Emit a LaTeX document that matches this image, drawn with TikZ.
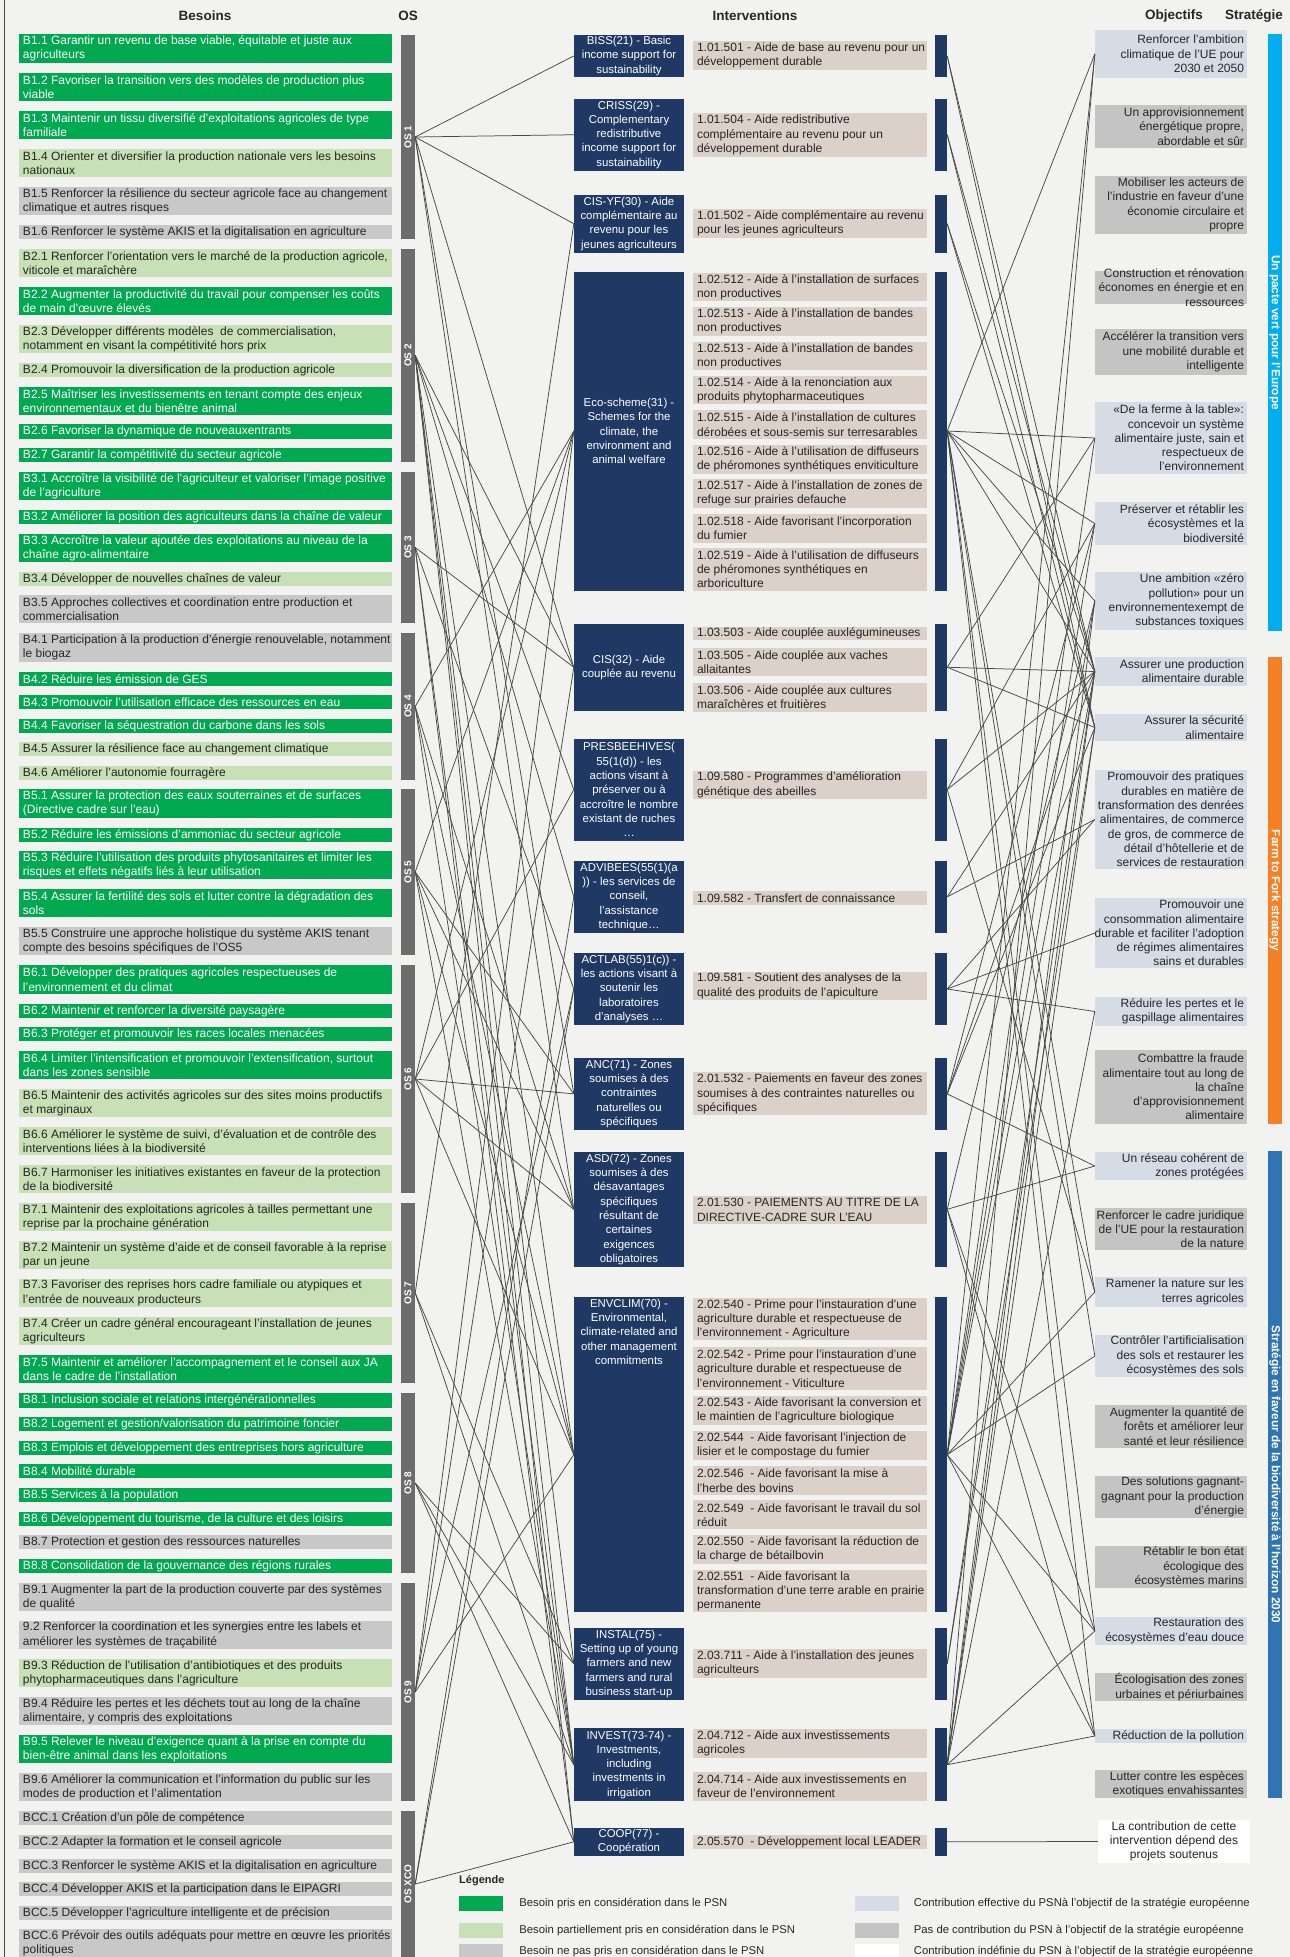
\documentclass[tikz,border=0pt]{standalone}
\usepackage{fontspec}
\setmainfont{Liberation Sans}
\definecolor{bgc}{RGB}{242,242,240}
\definecolor{dgreen}{RGB}{0,168,80}
\definecolor{lgreen}{RGB}{200,224,182}
\definecolor{ngray}{RGB}{200,200,200}
\definecolor{osgray}{RGB}{108,108,108}
\definecolor{navy}{RGB}{32,56,100}
\definecolor{beige}{RGB}{220,209,201}
\definecolor{objblue}{RGB}{214,220,229}
\definecolor{objgray}{RGB}{196,196,196}
\definecolor{tdark}{RGB}{38,38,38}
\definecolor{lgray}{RGB}{72,72,72}
\definecolor{cyanb}{RGB}{0,174,239}
\definecolor{orangeb}{RGB}{245,128,37}
\definecolor{steelb}{RGB}{46,117,182}
\newcommand\fs{\fontsize{12}{14.3}\selectfont}
\newcommand\fsi{\fontsize{11.4}{14.3}\selectfont}
\newcommand\needbox[5]{%
 \pgfmathsetmacro\myH{#3-#2}\pgfmathsetmacro\myC{(#2+#3)/2}%
 \node[needbg,#4,minimum height=\myH pt] (#1) at (205.5,\myC) {};%
 \node[needtxt,#4t] (#1t) at ([xshift=4pt]#1.west) {#5};}
\newcommand\osbar[4]{%
 \pgfmathsetmacro\myH{#3-#2}\pgfmathsetmacro\myC{(#2+#3)/2}%
 \node[osbarst,minimum height=\myH pt] (#1) at (408,\myC) {};%
 \node[oslab] (#1t) at (#1) {#4};}
\newcommand\ivbox[4]{%
 \pgfmathsetmacro\myH{#3-#2}\pgfmathsetmacro\myC{(#2+#3)/2}%
 \node[ivst,minimum height=\myH pt] (#1) at (629,\myC) {};%
 \node[rbarst,minimum height=\myH pt] (#1-r) at (941,\myC) {};%
 \node[ivtxt] (#1t) at (#1) {#4};}
\newcommand\beigebox[4]{%
 \pgfmathsetmacro\myH{#3-#2}\pgfmathsetmacro\myC{(#2+#3)/2}%
 \node[beigest,minimum height=\myH pt] (#1) at (810,\myC) {};%
 \node[btxt] (#1t) at ([xshift=4pt]#1.west) {#4};}
\newcommand\objbox[5]{%
 \pgfmathsetmacro\myH{#3-#2}\pgfmathsetmacro\myC{(#2+#3)/2}%
 \node[objst,#4,minimum height=\myH pt] (#1) at (1171,\myC) {};%
 \node[otxt] (#1t) at ([xshift=-3pt]#1.east) {#5};}
\newcommand\stratbar[5]{%
 \pgfmathsetmacro\myH{#3-#2}\pgfmathsetmacro\myC{(#2+#3)/2}%
 \node[inner sep=0,minimum width=14pt,minimum height=\myH pt,fill=#4] (#1) at (1275,\myC) {};%
 \node[stlab] (#1t) at (#1) {#5};}
\begin{document}
\begin{tikzpicture}[x=1pt,y=-1pt,
 needbg/.style={inner sep=0,minimum width=373pt,draw=none},
 pg/.style={fill=dgreen}, pp/.style={fill=lgreen}, pn/.style={fill=ngray},
 pgt/.style={text=white}, ppt/.style={text=tdark}, pnt/.style={text=tdark},
 needtxt/.style={inner sep=0,anchor=west,align=left,font=\fs},
 osbarst/.style={fill=osgray,inner sep=0,minimum width=14pt},
 oslab/.style={text=white,font=\bfseries\fontsize{10}{11}\selectfont,rotate=90,inner sep=0},
 ivst/.style={fill=navy,inner sep=0,minimum width=110pt},
 ivtxt/.style={text=white,align=center,font=\fsi,inner sep=0},
 rbarst/.style={fill=navy,inner sep=0,minimum width=12pt},
 beigest/.style={fill=beige,inner sep=0,minimum width=234pt},
 btxt/.style={text=tdark,align=left,anchor=west,font=\fs,inner sep=0},
 objst/.style={inner sep=0,minimum width=152pt},
 ob/.style={fill=objblue}, og/.style={fill=objgray}, ow/.style={fill=white},
 otxt/.style={text=tdark,align=right,anchor=east,font=\fs,inner sep=0},
 conn/.style={draw=lgray,line width=0.75pt},
 hdr/.style={font=\bfseries\fontsize{13.5}{15}\selectfont,text=tdark},
 stlab/.style={text=white,font=\bfseries\fontsize{11.8}{13}\selectfont,rotate=-90,inner sep=0},
 legtxt/.style={text=tdark,anchor=west,font=\fontsize{11.3}{13}\selectfont,inner sep=0},
 sw/.style={inner sep=0,minimum width=44pt,minimum height=15pt}]
\useasboundingbox (0,0) rectangle (1290,1957);
\fill[bgc] (0,0) rectangle (1290,1957);
\draw[line width=1.2pt,draw=tdark!85] (4.5,0) -- (4.5,1957);
% headers
\node[hdr] (hB) at (205,16) {Besoins};
\node[hdr] (hO) at (408,16) {OS};
\node[hdr] (hI) at (755,16) {Interventions};
\node[hdr] (hOb) at (1174,16) {Objectifs};
\node[hdr] (hS) at (1254,16) {Stratégie};
% needs
\needbox{b11}{34}{63}{pg}{B1.1 Garantir un revenu de base viable, équitable et juste aux\\agriculteurs}
\needbox{b12}{73}{101}{pg}{B1.2 Favoriser la transition vers des modèles de production plus\\viable}
\needbox{b13}{111}{139}{pg}{B1.3 Maintenir un tissu diversifié d’exploitations agricoles de type\\familiale}
\needbox{b14}{149}{177}{pp}{B1.4 Orienter et diversifier la production nationale vers les besoins\\nationaux}
\needbox{b15}{187}{215}{pn}{B1.5 Renforcer la résilience du secteur agricole face au changement\\climatique et autres risques}
\needbox{b16}{225}{239}{pn}{B1.6 Renforcer le système AKIS et la digitalisation en agriculture}
\needbox{b21}{249}{277}{pp}{B2.1 Renforcer l’orientation vers le marché de la production agricole,\\viticole et maraîchère}
\needbox{b22}{287}{315}{pg}{B2.2 Augmenter la productivité du travail pour compenser les coûts\\de main d’œuvre élevés}
\needbox{b23}{325}{353}{pp}{B2.3 Développer différents modèles \ de commercialisation,\\notamment en visant la compétitivité hors prix}
\needbox{b24}{363}{377}{pp}{B2.4 Promouvoir la diversification de la production agricole}
\needbox{b25}{387}{415}{pg}{B2.5 Maîtriser les investissements en tenant compte des enjeux\\environnementaux et du bienêtre animal}
\needbox{b26}{424}{439}{pg}{B2.6 Favoriser la dynamique de nouveauxentrants}
\needbox{b27}{448}{462}{pg}{B2.7 Garantir la compétitivité du secteur agricole}
\needbox{b31}{472}{500}{pg}{B3.1 Accroître la visibilité de l’agriculteur et valoriser l’image positive\\de l’agriculture}
\needbox{b32}{510}{524}{pg}{B3.2 Améliorer la position des agriculteurs dans la chaîne de valeur}
\needbox{b33}{534}{562}{pg}{B3.3 Accroître la valeur ajoutée des exploitations au niveau de la\\chaîne agro-alimentaire}
\needbox{b34}{572}{586}{pp}{B3.4 Développer de nouvelles chaînes de valeur}
\needbox{b35}{595}{623}{pn}{B3.5 Approches collectives et coordination entre production et\\commercialisation}
\needbox{b41}{633}{662}{pn}{B4.1 Participation à la production d’énergie renouvelable, notamment\\le biogaz}
\needbox{b42}{672}{686}{pg}{B4.2 Réduire les émission de GES}
\needbox{b43}{695}{709}{pg}{B4.3 Promouvoir l’utilisation efficace des ressources en eau}
\needbox{b44}{719}{733}{pg}{B4.4 Favoriser la séquestration du carbone dans les sols}
\needbox{b45}{742}{756}{pp}{B4.5 Assurer la résilience face au changement climatique}
\needbox{b46}{766}{780}{pp}{B4.6 Améliorer l’autonomie fourragère}
\needbox{b51}{789}{818}{pg}{B5.1 Assurer la protection des eaux souterraines et de surfaces\\(Directive cadre sur l’eau)}
\needbox{b52}{828}{842}{pg}{B5.2 Réduire les émissions d’ammoniac du secteur agricole}
\needbox{b53}{851}{879}{pg}{B5.3 Réduire l’utilisation des produits phytosanitaires et limiter les\\risques et effets négatifs liés à leur utilisation}
\needbox{b54}{889}{917}{pg}{B5.4 Assurer la fertilité des sols et lutter contre la dégradation des\\sols}
\needbox{b55}{927}{955}{pn}{B5.5 Construire une approche holistique du système AKIS tenant\\compte des besoins spécifiques de l’OS5}
\needbox{b61}{965}{994}{pg}{B6.1 Développer des pratiques agricoles respectueuses de\\l’environnement et du climat}
\needbox{b62}{1004}{1018}{pg}{B6.2 Maintenir et renforcer la diversité paysagère}
\needbox{b63}{1027}{1041}{pg}{B6.3 Protéger et promouvoir les races locales menacées}
\needbox{b64}{1051}{1079}{pg}{B6.4 Limiter l’intensification et promouvoir l’extensification, surtout\\dans les zones sensible}
\needbox{b65}{1089}{1117}{pp}{B6.5 Maintenir des activités agricoles sur des sites moins productifs\\et marginaux}
\needbox{b66}{1127}{1155}{pp}{B6.6 Améliorer le système de suivi, d’évaluation et de contrôle des\\interventions liées à la biodiversité}
\needbox{b67}{1165}{1193}{pp}{B6.7 Harmoniser les initiatives existantes en faveur de la protection\\de la biodiversité}
\needbox{b71}{1203}{1231}{pp}{B7.1 Maintenir des exploitations agricoles à tailles permettant une\\reprise par la prochaine génération}
\needbox{b72}{1241}{1269}{pp}{B7.2 Maintenir un système d’aide et de conseil favorable à la reprise\\par un jeune}
\needbox{b73}{1279}{1307}{pp}{B7.3 Favoriser des reprises hors cadre familiale ou atypiques et\\l’entrée de nouveaux producteurs}
\needbox{b74}{1317}{1345}{pp}{B7.4 Créer un cadre général encourageant l’installation de jeunes\\agriculteurs}
\needbox{b75}{1355}{1383}{pg}{B7.5 Maintenir et améliorer l’accompagnement et le conseil aux JA\\dans le cadre de l’installation}
\needbox{b81}{1393}{1408}{pg}{B8.1 Inclusion sociale et relations intergénérationnelles}
\needbox{b82}{1417}{1431}{pg}{B8.2 Logement et gestion/valorisation du patrimoine foncier}
\needbox{b83}{1441}{1455}{pg}{B8.3 Emplois et développement des entreprises hors agriculture}
\needbox{b84}{1464}{1478}{pg}{B8.4 Mobilité durable}
\needbox{b85}{1488}{1502}{pg}{B8.5 Services à la population}
\needbox{b86}{1512}{1526}{pg}{B8.6 Développement du tourisme, de la culture et des loisirs}
\needbox{b87}{1535}{1549}{pn}{B8.7 Protection et gestion des ressources naturelles}
\needbox{b88}{1559}{1573}{pg}{B8.8 Consolidation de la gouvernance des régions rurales}
\needbox{b91}{1583}{1611}{pn}{B9.1 Augmenter la part de la production couverte par des systèmes\\de qualité}
\needbox{b92}{1621}{1649}{pn}{9.2 Renforcer la coordination et les synergies entre les labels et\\améliorer les systèmes de traçabilité}
\needbox{b93}{1659}{1687}{pp}{B9.3 Réduction de l’utilisation d’antibiotiques et des produits\\phytopharmaceutiques dans l’agriculture}
\needbox{b94}{1697}{1725}{pn}{B9.4 Réduire les pertes et les déchets tout au long de la chaîne\\alimentaire, y compris des exploitations}
\needbox{b95}{1735}{1763}{pg}{B9.5 Relever le niveau d’exigence quant à la prise en compte du\\bien-être animal dans les exploitations}
\needbox{b96}{1773}{1801}{pn}{B9.6 Améliorer la communication et l’information du public sur les\\modes de production et l’alimentation}
\needbox{bc1}{1811}{1825}{pn}{BCC.1 Création d’un pôle de compétence}
\needbox{bc2}{1835}{1849}{pn}{BCC.2 Adapter la formation et le conseil agricole}
\needbox{bc3}{1859}{1873}{pn}{BCC.3 Renforcer le système AKIS et la digitalisation en agriculture}
\needbox{bc4}{1882}{1896}{pn}{BCC.4 Développer AKIS et la participation dans le EIPAGRI}
\needbox{bc5}{1906}{1920}{pn}{BCC.5 Développer l’agriculture intelligente et de précision}
\needbox{bc6}{1929}{1957}{pn}{BCC.6 Prévoir des outils adéquats pour mettre en œuvre les priorités\\politiques}
% OS bars
\osbar{os1}{35}{239}{OS 1}
\osbar{os2}{249}{462}{OS 2}
\osbar{os3}{472}{623}{OS 3}
\osbar{os4}{633}{780}{OS 4}
\osbar{os5}{789}{955}{OS 5}
\osbar{os6}{965}{1193}{OS 6}
\osbar{os7}{1203}{1383}{OS 7}
\osbar{os8}{1393}{1573}{OS 8}
\osbar{os9}{1583}{1801}{OS 9}
\osbar{osx}{1811}{1957}{OS XCO}
% interventions
\ivbox{biss}{34.5}{77.4}{BISS(21) - Basic\\income support for\\sustainability}
\ivbox{criss}{98.5}{171}{CRISS(29) -\\Complementary\\redistributive\\income support for\\sustainability}
\ivbox{cisyf}{195}{252.5}{CIS-YF(30) - Aide\\complémentaire au\\revenu pour les\\jeunes agriculteurs}
\ivbox{eco}{271.5}{590.5}{Eco-scheme(31) -\\Schemes for the\\climate, the\\environment and\\animal welfare}
\ivbox{cis}{624}{710.5}{CIS(32) - Aide\\couplée au revenu}
\ivbox{pres}{738.7}{840.5}{PRESBEEHIVES(\\55(1(d)) - les\\actions visant à\\préserver ou à\\accroître le nombre\\existant de ruches\\…}
\ivbox{advi}{860.7}{933}{ADVIBEES(55(1)(a\\)) - les services de\\conseil,\\l’assistance\\technique…}
\ivbox{actl}{953}{1025}{ACTLAB(55)1(c)) -\\les actions visant à\\soutenir les\\laboratoires\\d’analyses …}
\ivbox{anc}{1057.7}{1130}{ANC(71) - Zones\\soumises à des\\contraintes\\naturelles ou\\spécifiques}
\ivbox{asd}{1151.6}{1267}{ASD(72) - Zones\\soumises à des\\désavantages\\spécifiques\\résultant de\\certaines\\exigences\\obligatoires}
\ivbox{env}{1297}{1612.4}{}
\node[ivtxt,anchor=north] (envtx) at ([yshift=-2pt]env.north) {ENVCLIM(70) -\\Environmental,\\climate-related and\\other management\\commitments};
\ivbox{inst}{1627.6}{1700}{INSTAL(75) -\\Setting up of young\\farmers and new\\farmers and rural\\business start-up}
\ivbox{inv}{1728.4}{1801}{INVEST(73-74) -\\Investments,\\including\\investments in\\irrigation}
\ivbox{coop}{1827.6}{1856}{COOP(77) -\\Coopération}
% beige
\beigebox{i501}{41}{70}{1.01.501 - Aide de base au revenu pour un\\développement durable}
\beigebox{i504}{113}{157}{1.01.504 - Aide redistributive\\complémentaire au revenu pour un\\développement durable}
\beigebox{i502}{209}{238}{1.01.502 - Aide complémentaire au revenu\\pour les jeunes agriculteurs}
\beigebox{i512}{273}{301}{1.02.512 - Aide à l’installation de surfaces\\non productives}
\beigebox{i513a}{307}{336}{1.02.513 - Aide à l’installation de bandes\\non productives}
\beigebox{i513b}{342}{370}{1.02.513 - Aide à l’installation de bandes\\non productives}
\beigebox{i514}{376}{404}{1.02.514 - Aide à la renonciation aux\\produits phytopharmaceutiques}
\beigebox{i515}{410}{439}{1.02.515 - Aide à l’installation de cultures\\dérobées et sous-semis sur terresarables}
\beigebox{i516}{445}{473.5}{1.02.516 - Aide à l’utilisation de diffuseurs\\de phéromones synthétiques enviticulture}
\beigebox{i517}{479}{508}{1.02.517 - Aide à l’installation de zones de\\refuge sur prairies defauche}
\beigebox{i518}{514}{542.5}{1.02.518 - Aide favorisant l’incorporation\\du fumier}
\beigebox{i519}{548}{590.5}{1.02.519 - Aide à l’utilisation de diffuseurs\\de phéromones synthétiques en\\arboriculture}
\beigebox{i503}{626.7}{640.2}{1.03.503 - Aide couplée auxlégumineuses}
\beigebox{i505}{648}{676}{1.03.505 - Aide couplée aux vaches\\allaitantes}
\beigebox{i506}{683}{711.7}{1.03.506 - Aide couplée aux cultures\\maraîchères et fruitières}
\beigebox{i580}{770.7}{799}{1.09.580 - Programmes d’amélioration\\génétique des abeilles}
\beigebox{i582}{890.6}{905}{1.09.582 - Transfert de connaissance}
\beigebox{i581}{972}{1000}{1.09.581 - Soutient des analyses de la\\qualité des produits de l’apiculture}
\beigebox{i532}{1072.4}{1115.4}{2.01.532 - Paiements en faveur des zones\\soumises à des contraintes naturelles ou\\spécifiques}
\beigebox{i530}{1196}{1224}{2.01.530 - PAIEMENTS AU TITRE DE LA\\DIRECTIVE-CADRE SUR L’EAU}
\beigebox{i540}{1298}{1340.4}{2.02.540 - Prime pour l’instauration d’une\\agriculture durable et respectueuse de\\l’environnement - Agriculture}
\beigebox{i542}{1347}{1390}{2.02.542 - Prime pour l’instauration d’une\\agriculture durable et respectueuse de\\l’environnement - Viticulture}
\beigebox{i543}{1396}{1425}{2.02.543 - Aide favorisant la conversion et\\le maintien de l’agriculture biologique}
\beigebox{i544}{1431}{1460}{2.02.544 \ - Aide favorisant l’injection de\\lisier et le compostage du fumier}
\beigebox{i546}{1466}{1495}{2.02.546 \ - Aide favorisant la mise à\\l’herbe des bovins}
\beigebox{i549}{1500.4}{1529.3}{2.02.549 \ - Aide favorisant le travail du sol\\réduit}
\beigebox{i550}{1535}{1564}{2.02.550 \ - Aide favorisant la réduction de\\la charge de bétailbovin}
\beigebox{i551}{1570}{1612.4}{2.02.551 \ - Aide favorisant la\\transformation d’une terre arable en prairie\\permanente}
\beigebox{i711}{1649}{1678}{2.03.711 - Aide à l’installation des jeunes\\agriculteurs}
\beigebox{i712}{1729}{1758}{2.04.712 - Aide aux investissements\\agricoles}
\beigebox{i714}{1771.6}{1801}{2.04.714 - Aide aux investissements en\\faveur de l’environnement}
\beigebox{i570}{1834.7}{1849.3}{2.05.570 \ - Développement local LEADER}
% objectives
\objbox{o1}{30}{78}{ob}{Renforcer l’ambition\\climatique de l’UE pour\\2030 et 2050}
\objbox{o2}{105}{148}{og}{Un approvisionnement\\énergétique propre,\\abordable et sûr}
\objbox{o3}{176}{234}{og}{Mobiliser les acteurs de\\l’industrie en faveur d’une\\économie circulaire et\\propre}
\objbox{o4}{271}{304}{og}{Construction et rénovation\\économes en énergie et en\\ressources}
\objbox{o5}{329}{375}{og}{Accélérer la transition vers\\une mobilité durable et\\intelligente}
\objbox{o6}{402}{474}{ob}{«De la ferme à la table»:\\concevoir un système\\alimentaire juste, sain et\\respectueux de\\l’environnement}
\objbox{o7}{502}{545}{ob}{Préserver et rétablir les\\écosystèmes et la\\biodiversité}
\objbox{o8}{572}{630}{ob}{Une ambition «zéro\\pollution» pour un\\environnementexempt de\\substances toxiques}
\objbox{o9}{657}{686}{ob}{Assurer une production\\alimentaire durable}
\objbox{o10}{714}{741}{ob}{Assurer la sécurité\\alimentaire}
\objbox{o11}{770}{869}{ob}{Promouvoir des pratiques\\durables en matière de\\transformation des denrées\\alimentaires, de commerce\\de gros, de commerce de\\détail d’hôtellerie et de\\services de restauration}
\objbox{o12}{898}{968}{ob}{Promouvoir une\\consommation alimentaire\\durable et faciliter l’adoption\\de régimes alimentaires\\sains et durables}
\objbox{o13}{997}{1026}{ob}{Réduire les pertes et le\\gaspillage alimentaires}
\objbox{o14}{1050}{1124}{og}{Combattre la fraude\\alimentaire tout au long de\\la chaîne\\d’approvisionnement\\alimentaire}
\objbox{o15}{1152}{1180}{ob}{Un réseau cohérent de\\zones protégées}
\objbox{o16}{1208}{1250}{og}{Renforcer le cadre juridique\\de l’UE pour la restauration\\de la nature}
\objbox{o17}{1277}{1307}{ob}{Ramener la nature sur les\\terres agricoles}
\objbox{o18}{1335}{1377}{ob}{Contrôler l’artificialisation\\des sols et restaurer les\\écosystèmes des sols}
\objbox{o19}{1405}{1448}{og}{Augmenter la quantité de\\forêts et améliorer leur\\santé et leur résilience}
\objbox{o20}{1476}{1518}{og}{Des solutions gagnant-\\gagnant pour la production\\d’énergie}
\objbox{o21}{1546}{1588}{og}{Rétablir le bon état\\écologique des\\écosystèmes marins}
\objbox{o22}{1617}{1645}{ob}{Restauration des\\écosystèmes d’eau douce}
\objbox{o23}{1673}{1701}{og}{Écologisation des zones\\urbaines et périurbaines}
\objbox{o24}{1729}{1743}{ob}{Réduction de la pollution}
\objbox{o25}{1770}{1798}{og}{Lutter contre les espèces\\exotiques envahissantes}
\node[objst,ow,minimum height=43pt] (wb) at (1174,1841.5) {};
\node[text=tdark,align=center,font=\fs,inner sep=0] (wbt) at (wb) {La contribution de cette\\intervention dépend des\\projets soutenus};
% strategy bars
\stratbar{s1}{34}{631}{cyanb}{Un pacte vert pour l’Europe}
\stratbar{s2}{657}{1124}{orangeb}{Farm to Fork strategy}
\stratbar{s3}{1151}{1798}{steelb}{Stratégie en faveur de la biodiversité à l’horizon 2030}
% connectors left
\foreach \a/\b in {os1/biss,os1/criss,os1/cisyf,os1/cis,os1/anc,os1/asd,
 os2/cis,os2/pres,os2/advi,os2/inst,os2/inv,os2/coop,os2/env,
 os3/cis,os3/actl,os3/inv,os3/coop,
 os4/eco,os4/env,os4/inv,os4/asd,
 os5/eco,os5/env,os5/inv,os5/asd,os5/anc,
 os6/eco,os6/env,os6/pres,os6/anc,os6/asd,
 os7/cisyf,os7/inst,os7/inv,
 os8/coop,os8/inv,os8/inst,
 os9/eco,os9/env,os9/actl,os9/cis,
 osx/advi,osx/coop,osx/actl}
 \draw[conn] (\a.east) -- (\b.west);
% connectors right
\foreach \a/\b in {biss/o9,biss/o10,criss/o9,criss/o10,cisyf/o9,cisyf/o10,
 eco/o1,eco/o6,eco/o7,eco/o8,eco/o9,eco/o17,eco/o18,eco/o22,eco/o24,
 cis/o6,cis/o9,cis/o10,
 pres/o7,pres/o17,pres/o9,
 advi/o11,advi/o9,
 actl/o12,actl/o11,actl/o13,
 anc/o7,anc/o10,anc/o15,anc/o9,
 asd/o8,asd/o22,asd/o24,asd/o15,
 env/o1,env/o6,env/o7,env/o8,env/o9,env/o17,env/o18,env/o22,env/o24,
 inst/o9,inst/o10,
 inv/o1,inv/o8,inv/o9,inv/o13,inv/o22,inv/o24,inv/o10,
 coop/wb}
 \draw[conn] (\a-r.east) -- (\b.west);
% legend
\node[font=\bfseries\fontsize{11}{13}\selectfont,text=tdark,anchor=west,inner sep=0] (lgh) at (459,1881) {Légende};
\node[sw,fill=dgreen] (lg1) at (481,1903) {};
\node[sw,fill=lgreen] (lg2) at (481,1930) {};
\node[sw,fill=ngray] (lg3) at (481,1951) {};
\node[legtxt] (lg1t) at ([xshift=16pt]lg1.east) {Besoin pris en considération dans le PSN};
\node[legtxt] (lg2t) at ([xshift=16pt]lg2.east) {Besoin partiellement pris en considération dans le PSN};
\node[legtxt] (lg3t) at ([xshift=16pt]lg3.east) {Besoin ne pas pris en considération dans le PSN};
\node[sw,fill=objblue] (lg4) at (876.5,1903) {};
\node[sw,fill=objgray] (lg5) at (876.5,1930) {};
\node[sw,fill=white] (lg6) at (876.5,1951) {};
\node[legtxt] (lg4t) at ([xshift=15pt]lg4.east) {Contribution effective du PSNà l’objectif de la stratégie européenne};
\node[legtxt] (lg5t) at ([xshift=15pt]lg5.east) {Pas de contribution du PSN à l’objectif de la stratégie européenne};
\node[legtxt] (lg6t) at ([xshift=15pt]lg6.east) {Contribution indéfinie du PSN à l’objectif de la stratégie européenne};
\end{tikzpicture}
\end{document}
